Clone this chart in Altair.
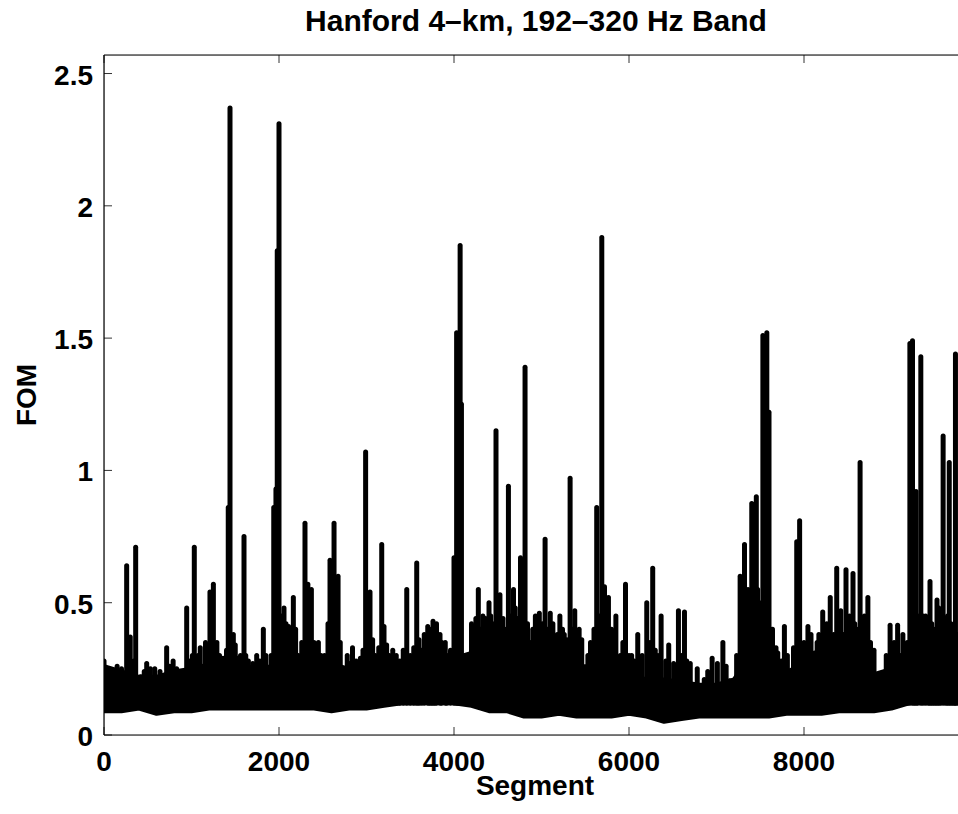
import altair as alt
import pandas as pd

# ---- data ----
band_seg = [0, 200, 400, 600, 800, 1000, 1200, 1400, 1600, 1800,
            2000, 2200, 2400, 2600, 2800, 3000, 3200, 3400, 3600, 3800,
            4000, 4200, 4400, 4600, 4800, 5000, 5200, 5400, 5600, 5800,
            6000, 6200, 6400, 6600, 6800, 7000, 7200, 7400, 7600, 7800,
            8000, 8200, 8400, 8600, 8800, 9000, 9200, 9400, 9600, 9800]
band_low = [0.09, 0.09, 0.10, 0.08, 0.09, 0.09, 0.10, 0.10, 0.10, 0.10,
            0.10, 0.10, 0.10, 0.09, 0.10, 0.10, 0.11, 0.12, 0.12, 0.13,
            0.12, 0.11, 0.09, 0.09, 0.07, 0.07, 0.08, 0.07, 0.07, 0.07,
            0.08, 0.07, 0.05, 0.06, 0.07, 0.07, 0.07, 0.07, 0.07, 0.08,
            0.08, 0.08, 0.09, 0.09, 0.09, 0.10, 0.12, 0.13, 0.13, 0.13]
band_high = [0.26, 0.24, 0.22, 0.22, 0.24, 0.25, 0.26, 0.27, 0.26, 0.25,
             0.27, 0.28, 0.26, 0.27, 0.25, 0.27, 0.27, 0.27, 0.29, 0.31,
             0.29, 0.31, 0.33, 0.31, 0.31, 0.29, 0.28, 0.26, 0.26, 0.27,
             0.23, 0.21, 0.21, 0.20, 0.19, 0.19, 0.21, 0.31, 0.29, 0.23,
             0.23, 0.26, 0.29, 0.27, 0.23, 0.25, 0.29, 0.31, 0.31, 0.31]

# tall and medium excursions
spike_seg = [0, 60, 150, 259, 300, 362, 420, 488, 580, 640, 716, 790, 830, 900, 945,
             1032, 1075, 1120, 1160, 1211, 1250, 1290, 1360, 1420, 1440, 1478, 1530,
             1600, 1650, 1700, 1745, 1821, 1880, 1940, 1965, 1980, 2000, 2057, 2110,
             2164, 2220, 2297, 2330, 2370, 2450, 2520, 2560, 2583, 2629, 2675, 2750,
             2800, 2840, 2930, 2990, 3040, 3100, 3174, 3200, 3260, 3300, 3380, 3460,
             3500, 3574, 3630, 3700, 3740, 3760, 3800, 3860, 3920, 4000, 4030, 4070,
             4085, 4110, 4180, 4278, 4330, 4360, 4400, 4440, 4480, 4525, 4560, 4622,
             4680, 4720, 4760, 4812, 4870, 4930, 4975, 5041, 5100, 5150, 5210, 5260,
             5327, 5380, 5430, 5500, 5560, 5631, 5689, 5720, 5765, 5800, 5850, 5900,
             5960, 6030, 6100, 6203, 6271, 6330, 6367, 6454, 6510, 6565, 6634, 6700,
             6780, 6860, 6950, 7010, 7073, 7150, 7230, 7270, 7320, 7360, 7403, 7430,
             7455, 7490, 7530, 7575, 7600, 7640, 7700, 7776, 7850, 7917, 7950, 8000,
             8045, 8080, 8120, 8170, 8214, 8260, 8300, 8374, 8420, 8480, 8520, 8560,
             8600, 8641, 8690, 8730, 8800, 8870, 8940, 8984, 9030, 9070, 9130, 9210,
             9240, 9280, 9300, 9335, 9390, 9440, 9480, 9520, 9560, 9590, 9620, 9660,
             9700, 9731]
spike_val = [0.28, 0.24, 0.26, 0.64, 0.37, 0.71, 0.22, 0.27, 0.25, 0.24, 0.33, 0.28, 0.25, 0.22, 0.48,
             0.71, 0.30, 0.26, 0.35, 0.54, 0.57, 0.35, 0.29, 0.86, 2.37, 0.38, 0.29,
             0.75, 0.28, 0.27, 0.30, 0.40, 0.22, 0.86, 0.93, 1.83, 2.31, 0.48, 0.41,
             0.52, 0.30, 0.80, 0.57, 0.55, 0.35, 0.30, 0.42, 0.66, 0.80, 0.60, 0.25,
             0.27, 0.33, 0.29, 1.07, 0.54, 0.30, 0.72, 0.41, 0.30, 0.32, 0.28, 0.55,
             0.30, 0.65, 0.32, 0.41, 0.38, 0.43, 0.42, 0.35, 0.30, 0.67, 1.52, 1.85,
             1.25, 0.24, 0.25, 0.55, 0.45, 0.44, 0.50, 0.40, 1.15, 0.53, 0.44, 0.94,
             0.55, 0.44, 0.67, 1.39, 0.35, 0.45, 0.46, 0.74, 0.46, 0.35, 0.45, 0.38,
             0.97, 0.47, 0.40, 0.25, 0.35, 0.86, 1.88, 0.56, 0.52, 0.40, 0.45, 0.30,
             0.57, 0.30, 0.38, 0.50, 0.63, 0.30, 0.45, 0.34, 0.27, 0.47, 0.465, 0.27,
             0.25, 0.21, 0.29, 0.27, 0.35, 0.205, 0.30, 0.60, 0.72, 0.55, 0.875, 0.53,
             0.90, 0.50, 1.51, 1.52, 1.22, 0.40, 0.31, 0.41, 0.245, 0.73, 0.81, 0.35,
             0.41, 0.38, 0.31, 0.38, 0.465, 0.42, 0.52, 0.63, 0.47, 0.625, 0.45, 0.61,
             0.40, 1.03, 0.45, 0.52, 0.32, 0.20, 0.30, 0.415, 0.35, 0.415, 0.38, 1.48,
             1.49, 0.92, 0.45, 1.43, 0.45, 0.58, 0.40, 0.51, 0.45, 1.13, 0.36, 1.03,
             0.38, 1.44]

# small excursions forming the ragged top of the dense band
fringe_seg = [100, 200, 340, 460, 530, 680, 750, 860, 980, 1010, 1100, 1180, 1230,
              1320, 1400, 1500, 1560, 1620, 1780, 1850, 1910, 2030, 2080, 2140, 2190,
              2260, 2310, 2400, 2480, 2610, 2650, 2700, 2780, 2880, 2960, 3020, 3070,
              3140, 3230, 3340, 3420, 3540, 3600, 3660, 3720, 3780, 3840, 3900, 3960,
              4050, 4140, 4200, 4250, 4300, 4420, 4460, 4540, 4580, 4650, 4700, 4740,
              4790, 4840, 4900, 5010, 5070, 5130, 5180, 5240, 5290, 5350, 5460, 5530,
              5600, 5660, 5740, 5820, 5930, 6000, 6060, 6150, 6240, 6300, 6420, 6600,
              6660, 6900, 7110, 7300, 7340, 7380, 7420, 7470, 7510, 7620, 7680, 7740,
              7810, 7880, 8020, 8150, 8240, 8340, 8400, 8450, 8500, 8540, 8580, 8620,
              8660, 8760, 9100, 9180, 9260, 9360, 9420, 9460, 9500, 9540, 9640, 9680,
              9720, 9750]
fringe_val = [0.22, 0.25, 0.28, 0.24, 0.25, 0.22, 0.26, 0.24, 0.28, 0.30, 0.33, 0.30, 0.36,
              0.30, 0.32, 0.34, 0.30, 0.30, 0.28, 0.30, 0.30, 0.45, 0.42, 0.38, 0.40,
              0.35, 0.40, 0.35, 0.30, 0.42, 0.40, 0.35, 0.30, 0.28, 0.32, 0.40, 0.36,
              0.33, 0.34, 0.30, 0.32, 0.33, 0.36, 0.38, 0.40, 0.40, 0.38, 0.35, 0.32,
              0.45, 0.26, 0.42, 0.44, 0.40, 0.45, 0.42, 0.42, 0.40, 0.45, 0.48, 0.44,
              0.45, 0.42, 0.40, 0.42, 0.40, 0.42, 0.38, 0.40, 0.36, 0.40, 0.36, 0.30,
              0.40, 0.45, 0.42, 0.38, 0.35, 0.30, 0.28, 0.30, 0.35, 0.32, 0.28, 0.30,
              0.28, 0.24, 0.26, 0.45, 0.50, 0.48, 0.50, 0.55, 0.48, 0.40, 0.33, 0.28,
              0.30, 0.33, 0.30, 0.35, 0.40, 0.38, 0.40, 0.38, 0.42, 0.40, 0.42, 0.40,
              0.40, 0.35, 0.30, 0.35, 0.45, 0.45, 0.40, 0.42, 0.40, 0.48, 0.45, 0.42,
              0.40, 0.38]
spike_base = 0.12

x_ticks = [0, 2000, 4000, 6000, 8000]
x_labels = ["0", "2000", "4000", "6000", "8000"]
y_ticks = [0, 0.5, 1, 1.5, 2, 2.5]
y_labels = ["0", "0.5", "1", "1.5", "2", "2.5"]
x_max = 9760
y_max = 2.57

title_text = "Hanford 4–km, 192–320 Hz Band"
x_title = "Segment"
y_title = "FOM"

# ---- layout ----
W, H = 854, 680
FONT = "Liberation Sans"
LBL = 28

band_df = pd.DataFrame({"seg": band_seg, "low": band_low, "high": band_high})
all_seg = spike_seg + fringe_seg
all_val = spike_val + fringe_val
spike_df = pd.DataFrame({"seg": all_seg, "val": all_val,
                         "base": [spike_base] * len(all_seg)})
xt_df = pd.DataFrame({"t": x_ticks, "lab": x_labels})
yt_df = pd.DataFrame({"t": y_ticks, "lab": y_labels})
one = pd.DataFrame({"a": [0]})

xs = alt.Scale(domain=[0, x_max], nice=False, zero=False)
ys = alt.Scale(domain=[0, y_max], nice=False, zero=False)

band = alt.Chart(band_df).mark_area(
    color="black", stroke="black", strokeWidth=4, strokeJoin="round", clip=True
).encode(
    x=alt.X("seg:Q", scale=xs, axis=None),
    y=alt.Y("low:Q", scale=ys, axis=None),
    y2="high:Q",
)

spikes = alt.Chart(spike_df).mark_rule(
    color="black", strokeWidth=5, strokeCap="round", clip=True
).encode(
    x=alt.X("seg:Q", scale=xs, axis=None),
    y=alt.Y("base:Q", scale=ys, axis=None),
    y2="val:Q",
)

tick_style = dict(color="#333333", strokeWidth=1)
xt_bottom = alt.Chart(xt_df).mark_rule(**tick_style).encode(
    x=alt.X("t:Q", scale=xs, axis=None), y=alt.value(H), y2=alt.value(H - 8))
xt_top = alt.Chart(xt_df).mark_rule(**tick_style).encode(
    x=alt.X("t:Q", scale=xs, axis=None), y=alt.value(0), y2=alt.value(8))
yt_left = alt.Chart(yt_df).mark_rule(**tick_style).encode(
    y=alt.Y("t:Q", scale=ys, axis=None), x=alt.value(0), x2=alt.value(8))

frame_style = dict(color="black", strokeWidth=1.2)
frame_top = alt.Chart(one).mark_rule(**frame_style).encode(
    x=alt.value(0), x2=alt.value(W), y=alt.value(0))
frame_bottom = alt.Chart(one).mark_rule(**frame_style).encode(
    x=alt.value(0), x2=alt.value(W), y=alt.value(H))
frame_left = alt.Chart(one).mark_rule(**frame_style).encode(
    x=alt.value(0), y=alt.value(0), y2=alt.value(H))

txt = dict(font=FONT, fontWeight="bold", color="black")
x_lab = alt.Chart(xt_df).mark_text(
    fontSize=LBL, align="center", baseline="top", **txt
).encode(x=alt.X("t:Q", scale=xs, axis=None), y=alt.value(H + 14), text="lab:N")
y_lab = alt.Chart(yt_df).mark_text(
    fontSize=LBL, align="right", baseline="middle", dy=3, **txt
).encode(y=alt.Y("t:Q", scale=ys, axis=None), x=alt.value(-11), text="lab:N")

x_tt = alt.Chart(one).mark_text(
    fontSize=LBL, align="center", baseline="alphabetic", **txt
).encode(x=alt.value(431), y=alt.value(H + 60), text=alt.value(x_title))
y_tt = alt.Chart(one).mark_text(
    fontSize=LBL, align="center", baseline="middle", angle=270, **txt
).encode(x=alt.value(-76), y=alt.value(H / 2), text=alt.value(y_title))
main_t = alt.Chart(one).mark_text(
    fontSize=30, align="center", baseline="alphabetic", **txt
).encode(x=alt.value(W / 2 + 5), y=alt.value(-24), text=alt.value(title_text))

chart = alt.layer(
    band, spikes, xt_bottom, xt_top, yt_left,
    frame_top, frame_bottom, frame_left,
    x_lab, y_lab, x_tt, y_tt, main_t,
).properties(
    width=W, height=H,
    autosize=alt.AutoSizeParams(type="none"),
    padding={"left": 104, "top": 55, "right": 0, "bottom": 79},
).configure_view(stroke=None).configure(background="white")

chart.save("out.html", embed_options={"renderer": "svg", "actions": False})
